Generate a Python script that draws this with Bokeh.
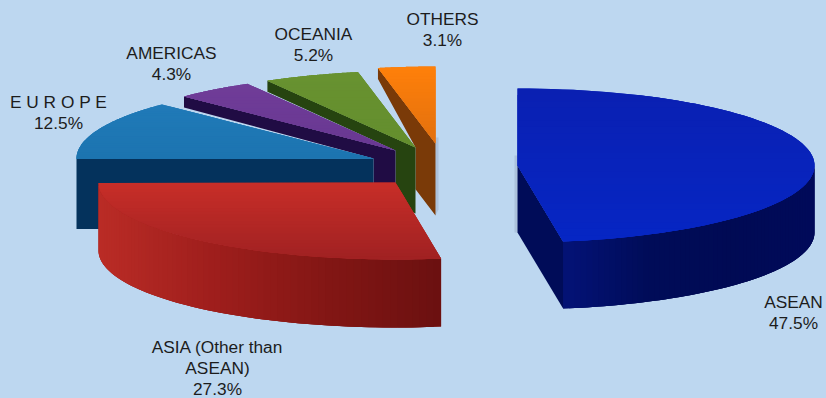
import numpy as np
from bokeh.plotting import figure
from bokeh.embed import file_html
from bokeh.resources import INLINE
from bokeh.core.properties import value
from bokeh.models import GlobalInlineStyleSheet

# ---- data -------------------------------------------------------------
regions = ["ASEAN", "ASIA (Other than ASEAN)", "EUROPE", "AMERICAS", "OCEANIA", "OTHERS"]
shares = [47.5, 27.3, 12.5, 4.3, 5.2, 3.1]
label_lines = [["ASEAN", "47.5%"],
               ["ASIA (Other than", "ASEAN)", "27.3%"],
               ["E U R O P E", "12.5%"],
               ["AMERICAS", "4.3%"],
               ["OCEANIA", "5.2%"],
               ["OTHERS", "3.1%"]]

# ---- layout and style (pixel scale of the picture) ---------------------
BG = "#bdd7f0"
RX, RY = 297.0, 77.0
centres = [(517, 165), (395, 182), (373, 158), (395, 150), (415, 147), (435, 143)]
depths = [67, 68, 70, 66, 66, 72]
label_pos = [(793, 301), (217, 346), (58, 101), (171, 52), (313, 33), (442, 18)]
LINE_GAP = 21
top_cols = [((10, 32, 178), (6, 38, 196)), ((200, 46, 40), (160, 33, 34)),
            ((32, 122, 184), (28, 116, 176)), ((112, 60, 152), (104, 56, 146)),
            ((104, 146, 48), (100, 142, 46)), ((255, 128, 10), (226, 112, 14))]
side_cols = [[(3, 18, 118), (0, 12, 88), (0, 10, 84), (0, 10, 90)],
             [(186, 44, 38), (158, 30, 28), (130, 22, 20), (106, 16, 16)],
             [(4, 50, 92), (4, 50, 92)],
             [(32, 12, 68), (32, 12, 68)],
             [(38, 68, 16), (38, 68, 16)],
             [(122, 58, 8), (122, 58, 8)]]
cut_cols = [(0, 12, 88), None, None, (32, 12, 68), (38, 68, 16), (122, 58, 8)]
LIP = 11
SOFT = (172, 194, 220)

fr = np.array(shares) / np.sum(shares)
edges = np.concatenate([[0], np.cumsum(fr)]) * 2 * np.pi


def hexc(c):
    return "#%02x%02x%02x" % tuple(int(round(v)) for v in c)


def mix(stops, f):
    stops = np.array(stops, float)
    f = np.clip(f, 0, 1) * (len(stops) - 1)
    i = min(int(f), len(stops) - 2)
    return stops[i] + (stops[i + 1] - stops[i]) * (f - i)


def pt(c, t):
    return np.array([c[0] + RX * np.sin(t), c[1] - RY * np.cos(t)])


def clip_band(poly, y0, y1):
    def clip(P, keep, cross):
        out = []
        for a, b in zip(P, P[1:] + P[:1]):
            if keep(a):
                out.append(a)
            if keep(a) != keep(b):
                out.append(cross(a, b))
        return out

    def at(y):
        return lambda a, b: (a[0] + (b[0] - a[0]) * (y - a[1]) / (b[1] - a[1]), y)

    P = clip(list(map(tuple, poly)), lambda a: a[1] >= y0, at(y0))
    if P:
        P = clip(P, lambda a: a[1] <= y1, at(y1))
    return P


xs, ys, cols = [], [], []


def add(poly, col):
    poly = np.array(poly, float)
    xs.append(list(poly[:, 0]))
    ys.append(list(poly[:, 1]))
    cols.append(hexc(col))


# back to front
for i in [5, 4, 3, 2, 1, 0]:
    c = np.array(centres[i], float)
    d = np.array([0, depths[i]], float)
    t0, t1 = edges[i], edges[i + 1]
    o_start, o_end = pt(c, t0), pt(c, t1)

    # soft edge beside the two free-standing slices
    if i == 5:
        add([c + [0, -6], c + [3, -6], c + d + [3, -6], c + d], SOFT)
    if i == 0:
        add([c + [-3, -10], c + [0, -10], c + d, c + d + [-3, 0]], SOFT)

    # straight cut facing the viewer
    if i == 0:
        add([c, o_end, o_end + d, c + d], cut_cols[0])
    elif i >= 3:
        # the part of the cut face left visible by the next slice
        n = np.array(centres[i - 1], float)
        f = (n[0] - c[0]) / (o_start[0] - c[0])
        low = c + d + (o_start - c) * f
        add([o_start, c, c + d, low, n, o_start + [0, LIP]], cut_cols[i])
    elif i == 2:
        add([c, o_start, o_start + d, c + d], side_cols[2][0])

    # outer wall, only where it faces the viewer: base shape, then overlapping strips
    if i <= 1:
        a, b = max(t0, np.pi / 2), min(t1, 3 * np.pi / 2)
        ts = np.linspace(a, b, 71)
        outer = [pt(c, t) for t in ts]
        xr = [q[0] for q in outer]
        lo, hi = min(xr), max(xr)
        add(outer + [q + d for q in outer[::-1]], mix(side_cols[i], 0.5))
        for k in range(len(ts) - 2):
            p1, p2 = outer[k], outer[k + 2]
            f = (0.5 * (p1[0] + p2[0]) - lo) / (hi - lo)
            add([p1, p2, p2 + d, p1 + d], mix(side_cols[i], f))

    # top surface: base wedge, then overlapping horizontal bands
    ts = np.linspace(t0, t1, 80)
    wedge = [tuple(c)] + [tuple(pt(c, t)) for t in ts]
    ymin = min(w[1] for w in wedge)
    ymax = max(w[1] for w in wedge)
    add(wedge, mix(top_cols[i], 0.5))
    bands = np.linspace(ymin, ymax, 25)
    step = bands[1] - bands[0]
    for y0 in bands[:-1]:
        P = clip_band(wedge, y0, y0 + 2 * step)
        if len(P) >= 3:
            add(P, mix(top_cols[i], (y0 + 0.5 * step - ymin) / (ymax - ymin)))

p = figure(width=826, height=398, x_range=(0, 826), y_range=(398, 0),
           x_axis_type=None, y_axis_type=None, toolbar_location=None,
           output_backend="svg", min_border=0,
           background_fill_color=BG, border_fill_color=BG, outline_line_color=None)
p.grid.visible = False
p.stylesheets = [GlobalInlineStyleSheet(css="html,body{margin:0;padding:0;background:%s;overflow:hidden}" % BG)]

p.patches(xs, ys, fill_color=cols, line_color=None)

tx, ty, tt = [], [], []
for (x, y), lines in zip(label_pos, label_lines):
    for k, s in enumerate(lines):
        tx.append(x)
        ty.append(y + k * LINE_GAP)
        tt.append(s)
p.text(tx, ty, text=tt, text_font=value("Liberation Sans"), text_font_size="17.3px",
       text_color="#1c1c1c", text_align="center", text_baseline="middle")

open("out.html", "w").write(file_html(p, INLINE))
